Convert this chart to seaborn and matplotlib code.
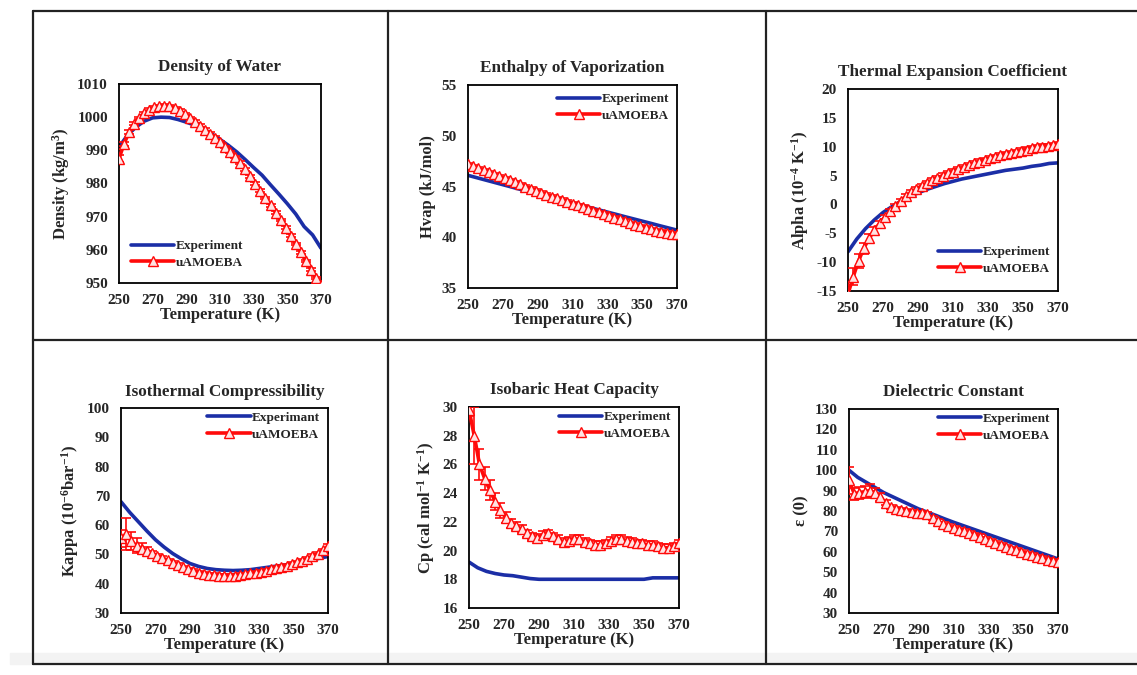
import matplotlib
matplotlib.use("Agg")
import matplotlib.pyplot as plt
from matplotlib.lines import Line2D
from matplotlib.patches import Rectangle
import seaborn as sns

sns.set_theme(style="white")
plt.rcParams['font.family'] = ['Liberation Serif', 'DejaVu Serif']
plt.rcParams['font.weight'] = 'bold'
plt.rcParams['mathtext.fontset'] = 'custom'
plt.rcParams['mathtext.rm'] = 'Liberation Serif:bold'
plt.rcParams['mathtext.bf'] = 'Liberation Serif:bold'
plt.rcParams['mathtext.default'] = 'rm'
plt.rcParams['axes.unicode_minus'] = False

# temperatures (K)
t_exp = [250, 255, 260, 265, 270, 275, 280, 285, 290, 295, 300, 305, 310,
         315, 320, 325, 330, 335, 340, 345, 350, 355, 360, 365, 370]
t_sim = [250, 253, 256, 259, 262, 265, 268, 271, 274, 277, 280, 283, 286, 289,
         292, 295, 298, 301, 304, 307, 310, 313, 316, 319, 322, 325, 328, 331,
         334, 337, 340, 343, 346, 349, 352, 355, 358, 361, 364, 367, 370]

# density (kg/m3)
dens_exp = [991.0, 994.5, 997.0, 998.8, 999.8, 1000.0, 999.9, 999.3, 998.5, 997.6,
            996.5, 995.0, 993.3, 991.5, 989.5, 987.2, 984.8, 982.5, 979.6, 976.8,
            973.9, 970.8, 967.0, 964.5, 960.5]
dens_sim = [987.5, 992.0, 995.5, 998.0, 999.8, 1001.2, 1002.3, 1003.0, 1003.4, 1003.5,
            1003.3, 1002.8, 1002.0, 1001.0, 999.8, 998.6, 997.4, 996.2, 995.0, 993.8,
            992.5, 991.0, 989.5, 988.0, 986.3, 984.3, 982.2, 980.0, 977.8, 975.6,
            973.4, 971.2, 969.0, 966.7, 964.3, 961.8, 959.2, 956.6, 954.0, 951.5, 949.5]
dens_err = [1.0, 0.6, 0.5, 0.4, 0.4, 0.4, 0.4, 0.4, 0.4, 0.4, 0.4, 0.4, 0.4, 0.4,
            0.4, 0.4, 0.4, 0.4, 0.4, 0.4, 0.4, 0.4, 0.4, 0.4, 0.4, 0.4, 0.4, 0.4,
            0.4, 0.4, 0.4, 0.4, 0.4, 0.4, 0.4, 0.4, 0.4, 0.4, 0.4, 0.4, 0.4]

# enthalpy of vaporization (kJ/mol)
hvap_exp = [46.1, 45.87, 45.64, 45.41, 45.18, 44.95, 44.72, 44.49, 44.27, 44.04,
            43.82, 43.6, 43.37, 43.15, 42.93, 42.7, 42.48, 42.26, 42.03, 41.81,
            41.59, 41.37, 41.14, 40.92, 40.7]
hvap_sim = [47.2, 47.0, 46.8, 46.6, 46.4, 46.2, 46.0, 45.8, 45.6, 45.4, 45.2, 45.0,
            44.8, 44.6, 44.4, 44.2, 44.0, 43.85, 43.7, 43.5, 43.3, 43.15, 43.0, 42.8,
            42.6, 42.45, 42.3, 42.1, 41.9, 41.75, 41.6, 41.4, 41.25, 41.1, 40.95,
            40.8, 40.65, 40.55, 40.45, 40.35, 40.3]
hvap_err = [0.15, 0.15, 0.15, 0.15, 0.15, 0.15, 0.15, 0.15, 0.15, 0.15, 0.15, 0.15,
            0.15, 0.15, 0.15, 0.15, 0.15, 0.15, 0.15, 0.15, 0.15, 0.15, 0.15, 0.15,
            0.15, 0.15, 0.15, 0.15, 0.15, 0.15, 0.15, 0.15, 0.15, 0.15, 0.15, 0.15,
            0.15, 0.15, 0.15, 0.15, 0.15]

# thermal expansion coefficient (1e-4 /K)
alpha_exp = [-8.2, -6.0, -4.2, -2.7, -1.4, -0.4, 0.5, 1.3, 2.0, 2.6, 3.1, 3.6, 4.0,
             4.4, 4.7, 5.0, 5.3, 5.6, 5.9, 6.1, 6.3, 6.6, 6.8, 7.1, 7.2]
alpha_sim = [-15.5, -12.5, -9.8, -7.6, -5.9, -4.5, -3.3, -2.2, -1.2, -0.3, 0.6, 1.4,
             2.1, 2.7, 3.2, 3.7, 4.2, 4.6, 5.0, 5.4, 5.7, 6.1, 6.4, 6.8, 7.1, 7.4,
             7.7, 8.0, 8.2, 8.5, 8.7, 8.9, 9.1, 9.3, 9.5, 9.7, 9.9, 10.0, 10.1, 10.3, 10.4]
alpha_err = [2.0, 1.5, 1.2, 1.0, 0.8, 0.6, 0.5, 0.4, 0.4, 0.4, 0.4, 0.4, 0.4, 0.4,
             0.4, 0.4, 0.4, 0.4, 0.4, 0.4, 0.4, 0.4, 0.4, 0.4, 0.4, 0.4, 0.4, 0.4,
             0.4, 0.4, 0.4, 0.4, 0.4, 0.4, 0.4, 0.4, 0.4, 0.4, 0.4, 0.4, 0.4]

# isothermal compressibility (1e-6 /bar)
kappa_exp = [68.0, 64.4, 61.2, 58.0, 55.0, 52.5, 50.3, 48.5, 46.9, 45.9, 45.2, 44.8,
             44.6, 44.5, 44.6, 44.8, 45.2, 45.6, 46.0, 46.4, 46.9, 47.4, 48.0, 48.7, 49.3]
kappa_sim = [55.5, 57.0, 54.5, 53.0, 52.0, 51.2, 50.4, 49.6, 48.8, 48.0, 47.2, 46.4,
             45.6, 44.9, 44.3, 43.8, 43.4, 43.1, 42.9, 42.8, 42.7, 42.7, 42.8, 43.0,
             43.2, 43.5, 43.8, 44.1, 44.5, 44.9, 45.3, 45.7, 46.2, 46.7, 47.3, 47.9,
             48.6, 49.4, 50.3, 51.4, 52.8]
kappa_err = [3.0, 5.5, 3.0, 2.5, 1.8, 1.2, 0.8, 0.6, 0.6, 0.6, 0.6, 0.6, 0.6, 0.6,
             0.6, 0.6, 0.6, 0.6, 0.6, 0.6, 0.6, 0.6, 0.6, 0.6, 0.6, 0.6, 0.6, 0.6,
             0.6, 0.6, 0.6, 0.6, 0.6, 0.6, 0.6, 0.6, 0.6, 0.6, 0.6, 0.6, 0.6]

# isobaric heat capacity (cal/mol/K)
cp_exp = [19.2, 18.8, 18.55, 18.4, 18.3, 18.25, 18.15, 18.05, 18.0, 18.0, 18.0, 18.0,
          18.0, 18.0, 18.0, 18.0, 18.0, 18.0, 18.0, 18.0, 18.0, 18.1, 18.1, 18.1, 18.1]
cp_sim = [29.8, 28.0, 26.0, 25.0, 24.2, 23.4, 22.8, 22.3, 21.9, 21.7, 21.5, 21.2,
          21.0, 20.9, 21.1, 21.2, 21.0, 20.8, 20.6, 20.7, 20.8, 20.8, 20.6, 20.5,
          20.4, 20.4, 20.5, 20.7, 20.8, 20.8, 20.7, 20.6, 20.5, 20.5, 20.4, 20.4,
          20.3, 20.2, 20.2, 20.3, 20.5]
cp_err = [0.4, 2.0, 1.1, 0.8, 0.7, 0.6, 0.5, 0.4, 0.3, 0.3, 0.3, 0.25, 0.25, 0.25,
          0.25, 0.25, 0.25, 0.25, 0.25, 0.25, 0.25, 0.25, 0.25, 0.25, 0.25, 0.25, 0.25, 0.25,
          0.25, 0.25, 0.25, 0.25, 0.25, 0.25, 0.25, 0.25, 0.25, 0.25, 0.25, 0.25, 0.25]

# static dielectric constant
eps_exp = [100.0, 96.5, 94.0, 91.5, 89.0, 87.0, 85.0, 83.0, 81.0, 79.4, 77.8, 76.1,
           74.5, 73.0, 71.5, 70.0, 68.5, 67.0, 65.5, 64.0, 62.5, 61.0, 59.5, 58.0, 56.5]
eps_sim = [95.0, 88.5, 89.0, 89.5, 90.0, 89.0, 87.0, 84.0, 82.0, 81.0, 80.5, 80.0,
           79.5, 79.0, 79.0, 78.5, 76.5, 75.0, 73.5, 72.5, 71.5, 70.5, 70.0, 69.0,
           68.0, 67.5, 66.5, 65.5, 64.5, 63.5, 62.5, 61.5, 61.0, 60.0, 59.0, 58.5,
           57.5, 57.0, 56.0, 55.5, 55.0]
eps_err = [6.5, 3.0, 3.0, 3.0, 3.0, 2.5, 2.0, 1.2, 1.0, 1.0, 1.0, 1.0, 1.0, 1.0,
           1.0, 1.0, 1.0, 1.0, 1.0, 1.0, 1.0, 1.0, 1.0, 1.0, 1.0, 1.0, 1.0, 1.0,
           1.0, 1.0, 1.0, 1.0, 1.0, 1.0, 1.0, 1.0, 1.0, 1.0, 1.0, 1.0, 1.0]

BLUE = "#1b2ea6"
RED = "#ff0a0a"
W, H = 1137, 675

panels = [
    dict(title="Density of Water", ylabel="Density (kg/m$^3$)", exp=dens_exp, sim=dens_sim,
         err=dens_err, ylim=(950, 1010), step=10, exp_name="Experiment",
         box=(119, 321, 84, 283), loc="lower left", anchor=(0.02, 0.03)),
    dict(title="Enthalpy of Vaporization", ylabel="Hvap (kJ/mol)", exp=hvap_exp, sim=hvap_sim,
         err=hvap_err, ylim=(35, 55), step=5, exp_name="Experiment",
         box=(468, 677, 85, 288), loc="upper right", anchor=(1.0, 1.0)),
    dict(title="Thermal Expansion Coefficient", ylabel="Alpha (10$^{-4}$ K$^{-1}$)",
         exp=alpha_exp, sim=alpha_sim, err=alpha_err, ylim=(-15, 20), step=5,
         exp_name="Experiment", box=(848, 1058, 89, 291), loc="lower right", anchor=(1.0, 0.04)),
    dict(title="Isothermal Compressibility", ylabel="Kappa (10$^{-6}$bar$^{-1}$)",
         exp=kappa_exp, sim=kappa_sim, err=kappa_err, ylim=(30, 100), step=10,
         exp_name="Experimant", box=(121, 328, 408, 613), loc="upper right", anchor=(1.0, 1.02)),
    dict(title="Isobaric Heat Capacity", ylabel="Cp (cal mol$^{-1}$ K$^{-1}$)",
         exp=cp_exp, sim=cp_sim, err=cp_err, ylim=(16, 30), step=2,
         exp_name="Experiment", box=(469, 679, 407, 608), loc="upper right", anchor=(1.0, 1.02)),
    dict(title="Dielectric Constant", ylabel="ε (0)", exp=eps_exp, sim=eps_sim, err=eps_err,
         ylim=(30, 130), step=10, exp_name="Experiment",
         box=(849, 1058, 409, 613), loc="upper right", anchor=(1.0, 1.02)),
]

fig = plt.figure(figsize=(W / 100, H / 100), dpi=100)
fig.patch.set_facecolor("white")

# light strip at the bottom of the page
fig.add_artist(Rectangle((10 / W, 1 - 664 / H), 1 - 10 / W, 11 / H,
                         transform=fig.transFigure, color="#f3f3f3", zorder=0))

for p in panels:
    x0, x1, y0, y1 = p["box"]
    ax = fig.add_axes([x0 / W, 1 - y1 / H, (x1 - x0) / W, (y1 - y0) / H])
    sns.lineplot(x=t_exp, y=p["exp"], ax=ax, color=BLUE, linewidth=2.6,
                 label=p["exp_name"], zorder=2)
    ax.errorbar(t_sim, p["sim"], yerr=p["err"], fmt="none", ecolor=RED,
                elinewidth=1.2, capsize=3.5, capthick=1.2, zorder=3)
    sns.lineplot(x=t_sim, y=p["sim"], ax=ax, color=RED, linewidth=2.6, marker="^",
                 markersize=6.5, markerfacecolor="#ffe2e2", markeredgecolor=RED,
                 markeredgewidth=1.0, label="uAMOEBA", zorder=4)

    ax.set_xlim(250, 370)
    ax.set_xticks(range(250, 371, 20))
    lo, hi = p["ylim"]
    ax.set_ylim(lo, hi)
    ax.set_yticks(range(lo, hi + 1, p["step"]))
    for s in ax.spines.values():
        s.set_color("black")
        s.set_linewidth(1.3)
    ax.tick_params(axis="both", direction="out", length=3, width=1, color="black",
                   labelsize=11, pad=5)
    for lab in ax.get_xticklabels() + ax.get_yticklabels():
        lab.set_fontweight("bold")
    ax.set_title(p["title"], fontsize=12.3, fontweight="bold", pad=9)
    ax.set_xlabel("Temperature (K)", fontsize=12, fontweight="bold", labelpad=0)
    ax.set_ylabel(p["ylabel"], fontsize=12, fontweight="bold", labelpad=4)
    ax.legend(loc=p["loc"], bbox_to_anchor=p["anchor"], frameon=False,
              handlelength=3.3, handletextpad=0.1, borderaxespad=0.2,
              labelspacing=0.35, prop=dict(weight="bold", size=9.5))

# page frame and cell separators
lines = [
    ((33, 1137), (11, 11)), ((33, 1137), (664, 664)), ((33, 33), (11, 664)),
    ((388, 388), (11, 664)), ((766, 766), (11, 664)), ((33, 1137), (340, 340)),
]
for xs, ys in lines:
    fig.add_artist(Line2D([x / W for x in xs], [1 - y / H for y in ys],
                          transform=fig.transFigure, color="#222222", linewidth=1.6))

fig.savefig("out.png", dpi=100)
